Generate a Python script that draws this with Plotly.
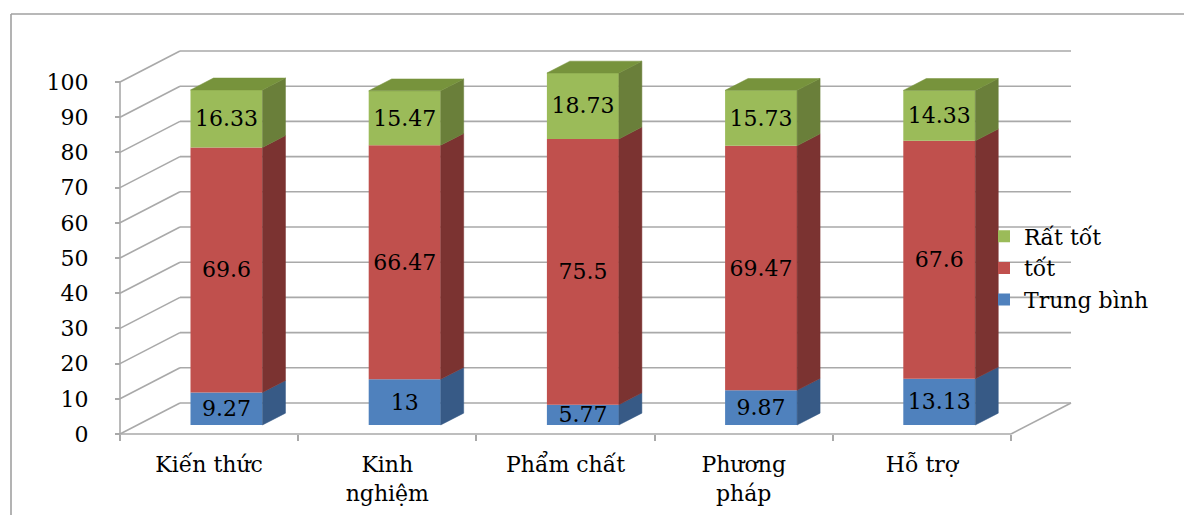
import plotly.graph_objects as go

# ---- data -------------------------------------------------------------
categories = ["Kiến thức", "Kinh<br>nghiệm", "Phẩm chất", "Phương<br>pháp", "Hỗ trợ"]
trung_binh = [9.27, 13, 5.77, 9.87, 13.13]
tot = [69.6, 66.47, 75.5, 69.47, 67.6]
rat_tot = [16.33, 15.47, 18.73, 15.73, 14.33]
y_ticks = list(range(0, 101, 10))

series = [
    # name, values, front colour, side colour, top colour
    ("Trung bình", trung_binh, "#4F81BD", "#375A86", "#3F6699"),
    ("tốt", tot, "#C0504D", "#7B3331", "#9A3F3C"),
    ("Rất tốt", rat_tot, "#9BBB59", "#6A7F3A", "#77933C"),
]

# ---- geometry of the oblique 3-D frame --------------------------------
W, H = 1184, 515
X0_PX, Y0_PX = 120, 434      # front-left corner of the floor (pixels)
CAT_PX = 178.2               # width of one category slot on the front plane
VAL_PX = 3.52                # pixels per value unit
DEPTH_DX, DEPTH_DY = 60, 31  # full wall depth, pixels (right / up)
BAR_T0, BAR_T1 = 0.29, 0.673 # bar front / back as fraction of wall depth
BAR_W = 72 / CAT_PX

FONT = "DejaVu Serif"
FS = 22
GRID = "#A9A9A9"


def depth(t):
    """Offset in data units for a depth fraction t (0 = front, 1 = back wall)."""
    return t * DEPTH_DX / CAT_PX, t * DEPTH_DY / VAL_PX


x_range = [-0.5 - X0_PX / CAT_PX, -0.5 + (W - X0_PX) / CAT_PX]
y_range = [-(H - Y0_PX) / VAL_PX, Y0_PX / VAL_PX]
n = len(categories)
xpos = list(range(n))

fdx, fdy = depth(BAR_T0)
sdx, sdy = depth(BAR_T1 - BAR_T0)
bdx, bdy = depth(1.0)

fig = go.Figure()

# ---- bars: front faces (real bars) + side/top faces (polygons) ----------
cum = [0.0] * n
for k, (name, vals, front, side, top) in enumerate(series):
    bases = [c + fdy for c in cum]
    fig.add_trace(go.Bar(
        name=name,
        x=[i + fdx for i in xpos],
        y=vals,
        base=bases,
        width=BAR_W,
        marker=dict(color=front, line=dict(width=0)),
        text=[f"{v:g}" for v in vals],
        textposition="inside",
        insidetextanchor="middle",
        constraintext="none",
        textangle=0,
        insidetextfont=dict(family=FONT, size=FS, color="black"),
        hoverinfo="skip",
    ))

    sx, sy = [], []
    for i in xpos:
        xr_ = i + fdx + BAR_W / 2
        b0, b1 = bases[i], bases[i] + vals[i]
        sx += [xr_, xr_, xr_ + sdx, xr_ + sdx, xr_, None]
        sy += [b0, b1, b1 + sdy, b0 + sdy, b0, None]
    fig.add_trace(go.Scatter(
        x=sx, y=sy, mode="lines", fill="toself", fillcolor=side,
        line=dict(color=side, width=0.5), showlegend=False, hoverinfo="skip",
    ))

    if k == len(series) - 1:
        tx, ty = [], []
        for i in xpos:
            xl_ = i + fdx - BAR_W / 2
            xr_ = i + fdx + BAR_W / 2
            t = bases[i] + vals[i]
            tx += [xl_, xr_, xr_ + sdx, xl_ + sdx, xl_, None]
            ty += [t, t, t + sdy, t + sdy, t, None]
        fig.add_trace(go.Scatter(
            x=tx, y=ty, mode="lines", fill="toself", fillcolor=top,
            line=dict(color=top, width=0.5), showlegend=False, hoverinfo="skip",
        ))

    cum = [c + v for c, v in zip(cum, vals)]

# ---- walls, floor and gridlines ------------------------------------------
shapes = []
line = dict(color=GRID, width=1.6)
left, right = -0.5, n - 0.5
for v in y_ticks:
    shapes.append(dict(type="line", xref="x", yref="y", layer="below",
                       x0=left + bdx, x1=right + bdx, y0=v + bdy, y1=v + bdy, line=line))
    shapes.append(dict(type="line", xref="x", yref="y", layer="below",
                       x0=left, x1=left + bdx, y0=v, y1=v + bdy, line=line))
shapes.append(dict(type="line", xref="x", yref="y", layer="below",
                   x0=left, x1=right, y0=0, y1=0, line=line))
shapes.append(dict(type="line", xref="x", yref="y", layer="below",
                   x0=right, x1=right + bdx, y0=0, y1=bdy, line=line))
shapes.append(dict(type="line", xref="x", yref="y", layer="below",
                   x0=left, x1=left, y0=0, y1=y_ticks[-1], line=line))

# outer chart frame
fx = 11 / W
fy = (H - 14) / H
frame = dict(color="#A0A0A0", width=1.6)
shapes.append(dict(type="line", xref="paper", yref="paper",
                   x0=fx, x1=fx, y0=-0.01, y1=fy, line=frame))
shapes.append(dict(type="line", xref="paper", yref="paper",
                   x0=fx, x1=1.01, y0=fy, y1=fy, line=frame))

axis_pos = (H - Y0_PX) / H

fig.update_layout(
    width=W, height=H,
    margin=dict(l=0, r=0, t=0, b=0),
    paper_bgcolor="white", plot_bgcolor="white",
    barmode="overlay",
    shapes=shapes,
    showlegend=True,
    legend=dict(
        x=984 / W, y=(H - 268) / H, xanchor="left", yanchor="middle",
        traceorder="reversed", bgcolor="rgba(0,0,0,0)",
        font=dict(family=FONT, size=FS, color="black"),
        itemclick=False, itemdoubleclick=False,
    ),
    xaxis=dict(
        range=x_range, anchor="free", position=axis_pos,
        tickmode="array", tickvals=xpos, ticktext=categories,
        ticks="", tickfont=dict(family=FONT, size=FS, color="black"),
        ticklabelstandoff=15,
        minor=dict(tickmode="array", tickvals=[i - 0.5 for i in range(n + 1)],
                   ticks="outside", ticklen=6, tickwidth=1.5, tickcolor=GRID,
                   showgrid=False),
        showgrid=False, zeroline=False, showline=False, fixedrange=True,
    ),
    yaxis=dict(
        range=y_range, anchor="free", position=X0_PX / W,
        tickmode="array", tickvals=y_ticks, ticktext=[str(v) for v in y_ticks],
        ticks="outside", ticklen=5, tickwidth=1.5, tickcolor=GRID,
        tickfont=dict(family=FONT, size=FS, color="black"),
        ticklabelstandoff=22,
        showgrid=False, zeroline=False, showline=False, fixedrange=True,
    ),
)

fig.write_html("out.html")
